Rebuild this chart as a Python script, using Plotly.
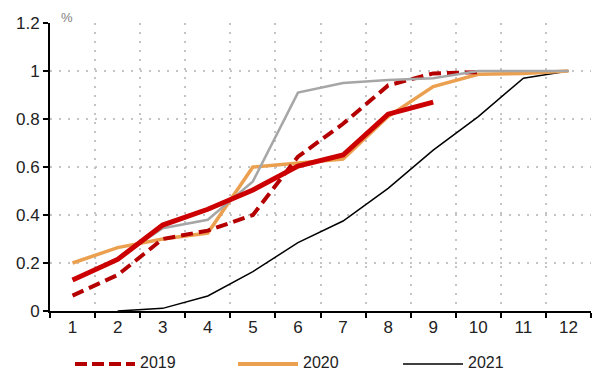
import plotly.graph_objects as go

months = ["1", "2", "3", "4", "5", "6", "7", "8", "9", "10", "11", "12"]
y2018 = [0.13, 0.22, 0.345, 0.38, 0.54, 0.91, 0.95, 0.963, 0.97, 1.0, 1.0, 1.0]
y2019 = [0.064, 0.15, 0.30, 0.335, 0.40, 0.643, 0.78, 0.94, 0.99, 0.995]
y2020 = [0.20, 0.264, 0.30, 0.325, 0.60, 0.617, 0.633, 0.81, 0.935, 0.986, 0.99, 1.0]
y2021 = [None, 0.0, 0.011, 0.0625, 0.164, 0.285, 0.375, 0.511, 0.67, 0.81, 0.97, 1.0]
y2022 = [0.129, 0.215, 0.358, 0.424, 0.504, 0.604, 0.65, 0.82, 0.87]
yticks = [0, 0.2, 0.4, 0.6, 0.8, 1.0, 1.2]
yticklabels = ["0", "0.2", "0.4", "0.6", "0.8", "1", "1.2"]

C2019 = "#B50000"
C2020 = "#EBA050"
C2021 = "#000000"
C2018 = "#A6A6A6"
C2022 = "#CC0000"

fig = go.Figure()
fig.add_trace(go.Scatter(x=months, y=y2021, mode="lines", line=dict(color=C2021, width=1.5), name="2021"))
fig.add_trace(go.Scatter(x=months, y=y2020, mode="lines", line=dict(color=C2020, width=3.5), name="2020"))
fig.add_trace(go.Scatter(x=months[:len(y2019)], y=y2019, mode="lines", line=dict(color=C2019, width=4, dash="12px,6px"), name="2019"))
fig.add_trace(go.Scatter(x=months, y=y2018, mode="lines", line=dict(color=C2018, width=2.5), name="2018"))
fig.add_trace(go.Scatter(x=months[:len(y2022)], y=y2022, mode="lines", line=dict(color=C2022, width=5), name="2022"))

# manual legend (paper coordinates)
legend_items = [("2019", C2019, 4, "12px,5px"), ("2020", C2020, 4, "solid"), ("2021", C2021, 1.5, "solid")]
W, H = 541.0, 288.0
starts = [75, 238, 403]
for (lab, col, w, dash), sx in zip(legend_items, starts):
    x0 = (sx - 50) / W
    x1 = (sx + 60 - 50) / W
    yl = (311 - 364) / H
    yt = (311 - 362) / H
    fig.add_shape(type="line", xref="paper", yref="paper", x0=x0, x1=x1, y0=yl, y1=yl,
                  line=dict(color=col, width=w, dash=dash))
    fig.add_annotation(xref="paper", yref="paper", x=(sx + 63 - 50) / W, y=yt, text=lab,
                       showarrow=False, xanchor="left", yanchor="middle",
                       font=dict(size=16, color="#222222"))

fig.add_annotation(xref="paper", yref="paper", x=(59 - 50) / W, y=(311 - 17) / H, text="%",
                   showarrow=False, xanchor="left", yanchor="middle",
                   font=dict(size=13, color="#808080"))

fig.update_layout(
    width=594, height=372,
    margin=dict(l=50, r=3, t=23, b=61),
    paper_bgcolor="white", plot_bgcolor="white",
    font=dict(family="Liberation Sans, Arial, sans-serif", size=17, color="#222222"),
    showlegend=False,
)
fig.update_xaxes(
    type="category", tickson="boundaries", ticks="outside", ticklen=5, tickwidth=2, tickcolor="black",
    showline=True, linecolor="black", linewidth=2,
    showgrid=True, gridcolor="#C4C4C4", gridwidth=1.5, griddash="2px,7px",
    range=[-0.5, 11.5], tickfont=dict(size=17),
)
fig.update_yaxes(
    range=[0, 1.2], tickvals=yticks, ticktext=yticklabels,
    ticks="outside", ticklen=5, tickwidth=2, tickcolor="black",
    showline=True, linecolor="black", linewidth=2, zeroline=False,
    showgrid=True, gridcolor="#C4C4C4", gridwidth=1.5, griddash="2px,7px",
    tickfont=dict(size=17),
)

fig.write_html("out.html")
